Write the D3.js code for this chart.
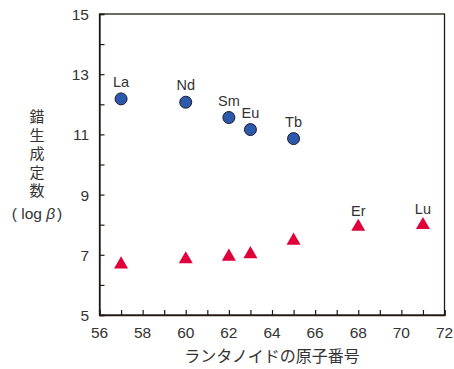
<!DOCTYPE html>
<html><head><meta charset="utf-8">
<script src="https://cdn.jsdelivr.net/npm/d3@7"></script>
<style>body{margin:0;background:#fff}svg{display:block}</style>
</head><body>
<script>
const elements = ["La","Nd","Sm","Eu","Tb","Er","Lu"];
const atomicNumbers = [57,60,62,63,65,68,71];
const circleValues = [12.18,12.07,11.56,11.16,10.86,null,null];
const triangleValues = [6.68,6.85,6.94,7.02,7.47,7.93,7.99];
const xTicks = [56,58,60,62,64,66,68,70,72];
const yTicks = [5,7,9,11,13,15];
const labelOnCircle = [true,true,true,true,true,false,false];

const W=454,H=369;
const svg=d3.select("body").append("svg").attr("width",W).attr("height",H);
const x=d3.scaleLinear().domain([56,72]).range([99.5,444.5]);
const y=d3.scaleLinear().domain([5,15]).range([315,14]);
const txt="#333";
const font="'Liberation Sans', Arial, sans-serif";

// frame
svg.append("rect").attr("x",x(56)).attr("y",y(15)).attr("width",x(72)-x(56)).attr("height",y(5)-y(15))
  .attr("fill","none").attr("stroke","#231815").attr("stroke-width",1.3);

const minorX=d3.range(56,73,1), minorY=d3.range(5,16,1);
const gx=svg.append("g").attr("transform",`translate(0,${y(5)})`)
  .call(d3.axisBottom(x).tickValues(minorX).tickSize(-5).tickFormat(""));
const gy=svg.append("g").attr("transform",`translate(${x(56)},0)`)
  .call(d3.axisLeft(y).tickValues(minorY).tickSize(-5).tickFormat(""));
[gx,gy].forEach(g=>{g.select(".domain").attr("stroke","#231815").attr("stroke-width",1.3);g.selectAll(".tick line").attr("stroke","#231815").attr("stroke-width",1.2);});

svg.append("g").selectAll("text").data(xTicks).join("text")
  .attr("x",d=>x(d)).attr("y",338).attr("text-anchor","middle")
  .attr("font-family",font).attr("font-size",15.5).attr("fill",txt).text(d=>d);
svg.append("g").selectAll("text").data(yTicks).join("text")
  .attr("x",89).attr("y",d=>y(d)+6).attr("text-anchor","end")
  .attr("font-family",font).attr("font-size",15.5).attr("fill",txt).text(d=>d);

// axis titles
svg.append("text").attr("x",272).attr("y",362).attr("text-anchor","middle")
  .attr("font-family","'Noto Sans CJK JP', sans-serif").attr("font-size",16).attr("fill",txt)
  .text("ランタノイドの原子番号");
svg.append("text").attr("x",37).attr("y",109)
  .style("writing-mode","vertical-rl").style("text-orientation","upright")
  .attr("letter-spacing",3.5)
  .attr("font-family","'Noto Sans CJK JP', sans-serif").attr("font-size",15).attr("fill",txt)
  .text("錯生成定数");
const lb=svg.append("text").attr("x",37).attr("y",219).attr("text-anchor","middle")
  .attr("font-family",font).attr("font-size",15.5).attr("fill",txt);
lb.append("tspan").text("( log ");
lb.append("tspan").attr("font-style","italic").text("β");
lb.append("tspan").attr("dx",2).text(")");

const idx=d3.range(elements.length);
// circles
svg.append("g").selectAll("circle").data(idx.filter(i=>circleValues[i]!=null)).join("circle")
  .attr("cx",i=>x(atomicNumbers[i])).attr("cy",i=>y(circleValues[i])).attr("r",6)
  .attr("fill","#2c5aa8").attr("stroke","#1a1a3a").attr("stroke-width",1);
// triangles
const tri=d3.symbol().type(d3.symbolTriangle).size(85);
svg.append("g").selectAll("path").data(idx).join("path")
  .attr("d",tri).attr("transform",i=>`translate(${x(atomicNumbers[i])},${y(triangleValues[i])})`)
  .attr("fill","#e0003c");
// labels
svg.append("g").selectAll("text").data(idx).join("text")
  .attr("x",i=>x(atomicNumbers[i])).attr("y",i=>labelOnCircle[i]?y(circleValues[i])-12:y(triangleValues[i])-11)
  .attr("text-anchor","middle").attr("font-family",font).attr("font-size",14.5).attr("fill",txt)
  .text(i=>elements[i]);
</script>
</body></html>
